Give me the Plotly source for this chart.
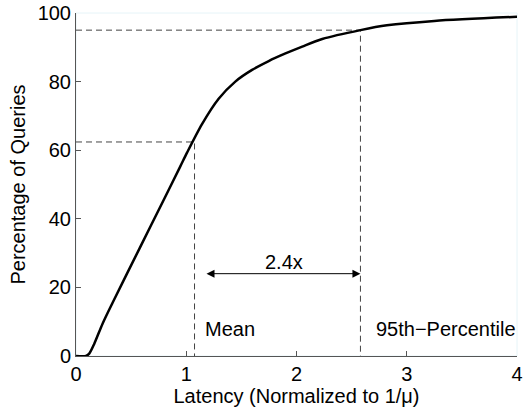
import plotly.graph_objects as go

# CDF curve data
latency = [0, 0.09, 0.12, 0.166, 0.242, 0.333, 0.58, 0.794, 0.945, 1.006, 1.143,
           1.294, 1.445, 1.597, 1.748, 1.9, 2.052, 2.233, 2.58, 2.82, 3.25, 4.0]
pct_queries = [0, 0, 0.7, 3.6, 9.5, 15.6, 31.6, 45.4, 55.2, 59.2, 67.6,
               75.0, 80.0, 83.4, 86.0, 88.2, 90.2, 92.4, 95.0, 96.4, 97.7, 98.9]

# reference markers
mean_x = [0, 1.075, 1.075]
mean_y = [62.4, 62.4, 0]
p95_x = [0, 2.58, 2.58]
p95_y = [95.0, 95.0, 0]

arrow_x = [1.17, 2.58]
arrow_y = 24
ratio_label = "2.4x"

x_ticks = [0, 1, 2, 3, 4]
y_ticks = [0, 20, 40, 60, 80, 100]

FONT = "Liberation Sans, Arial, Helvetica, sans-serif"
FS = 20

fig = go.Figure()
dash_style = dict(color="#444444", width=1, dash="6px,4px")
fig.add_trace(go.Scatter(x=mean_x, y=mean_y, mode="lines", line=dash_style,
                         hoverinfo="skip", showlegend=False))
fig.add_trace(go.Scatter(x=p95_x, y=p95_y, mode="lines", line=dash_style,
                         hoverinfo="skip", showlegend=False))
fig.add_trace(go.Scatter(x=latency, y=pct_queries, mode="lines",
                         line=dict(color="black", width=2.5, shape="spline", smoothing=0.8),
                         showlegend=False))

fig.add_annotation(x=arrow_x[1], y=arrow_y, ax=arrow_x[0], ay=arrow_y,
                   xref="x", yref="y", axref="x", ayref="y", text="",
                   showarrow=True, arrowhead=2, arrowside="end+start",
                   arrowsize=1.6, arrowwidth=1, arrowcolor="black")
fig.add_annotation(x=1.70, y=27.5, text=ratio_label, showarrow=False,
                   xanchor="left", yanchor="middle",
                   font=dict(family=FONT, size=FS, color="black"))
fig.add_annotation(x=1.155, y=8, text="Mean", showarrow=False,
                   xanchor="left", yanchor="middle",
                   font=dict(family=FONT, size=FS, color="black"))
fig.add_annotation(x=2.70, y=8, text="95th\u2212Percentile", showarrow=False,
                   xanchor="left", yanchor="middle",
                   font=dict(family=FONT, size=FS, color="black"))

# faint box on top/right
fig.add_shape(type="rect", xref="paper", yref="paper", x0=0, y0=0, x1=1, y1=1,
              line=dict(color="#e6f4f8", width=1), layer="below")

fig.update_xaxes(range=[0, 4], tickvals=x_ticks, showline=True, linecolor="#555555",
                 linewidth=1, ticks="inside", ticklen=5, tickcolor="#555555",
                 showgrid=False, zeroline=False, automargin=False,
                 tickfont=dict(family=FONT, size=FS, color="black"),
                 title=dict(text="Latency (Normalized to 1/\u03bc)", standoff=0,
                            font=dict(family=FONT, size=FS, color="black")))
fig.update_yaxes(range=[0, 100], tickvals=y_ticks, showline=True, linecolor="#555555",
                 linewidth=1, ticks="inside", ticklen=5, tickcolor="#555555",
                 showgrid=False, zeroline=False, automargin=False,
                 tickfont=dict(family=FONT, size=FS, color="black"),
                 title=dict(text="Percentage of Queries", standoff=6,
                            font=dict(family=FONT, size=FS, color="black")))

fig.update_layout(width=527, height=409, margin=dict(l=76, r=10, t=13, b=53),
                  plot_bgcolor="white", paper_bgcolor="white")

fig.write_html("out.html")
